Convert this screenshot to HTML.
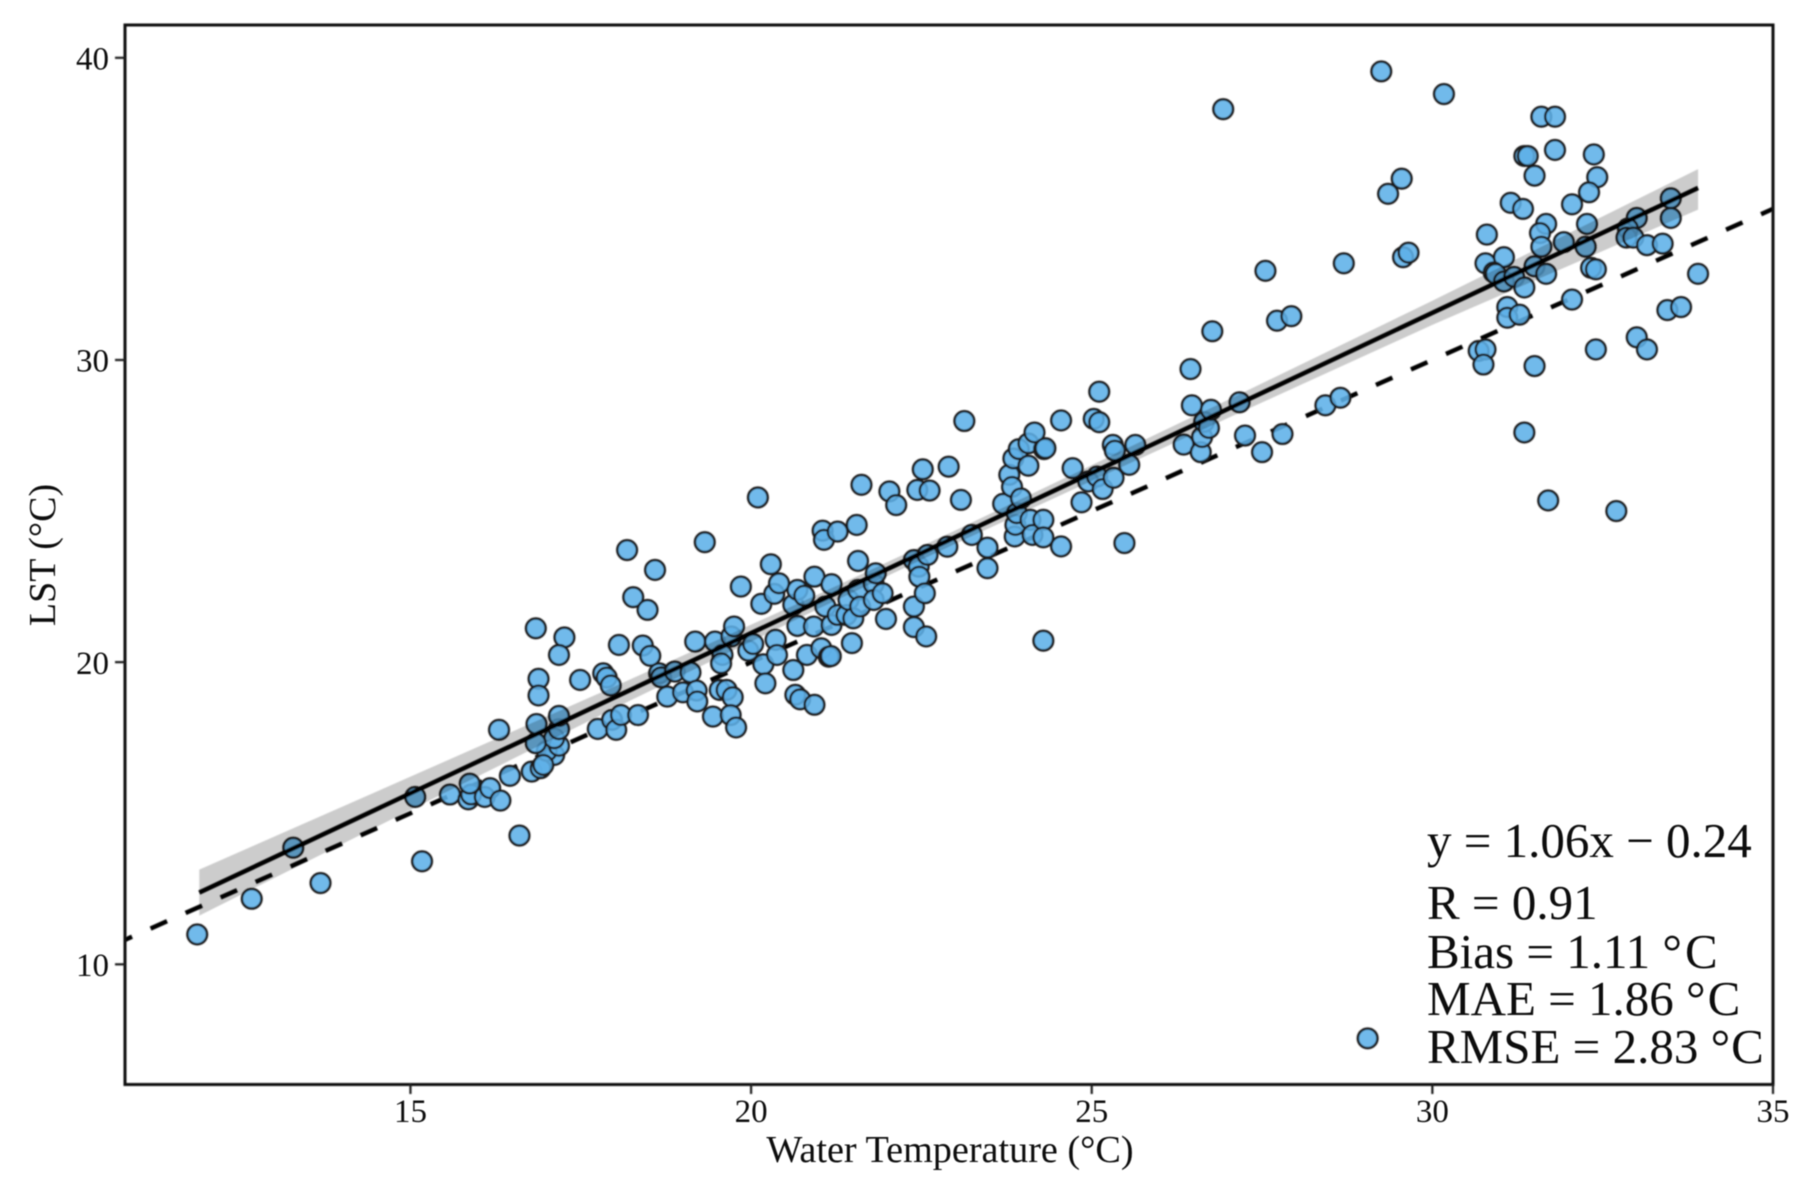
<!DOCTYPE html>
<html lang="en">
<head>
<meta charset="utf-8">
<title>LST vs Water Temperature</title>
<style>
html,body{margin:0;padding:0;background:#fff;}
body{width:1813px;height:1197px;overflow:hidden;}
svg{display:block;font-family:"Liberation Serif","Times New Roman",serif;fill:#111;}
</style>
</head>
<body>
<svg id="chart" width="1813" height="1197" viewBox="0 0 1813 1197" xmlns="http://www.w3.org/2000/svg">
  <defs>
    <filter id="soft" x="-2%" y="-2%" width="104%" height="104%"><feGaussianBlur stdDeviation="0.7"/></filter>
    <filter id="soft-text" x="-5%" y="-20%" width="110%" height="140%"><feGaussianBlur stdDeviation="0.45"/></filter>
    <clipPath id="plot-clip"><rect x="125" y="25" width="1648" height="1059"/></clipPath>
  </defs>
  <rect x="0" y="0" width="1813" height="1197" fill="#ffffff"/>
  <g id="plot" clip-path="url(#plot-clip)" filter="url(#soft)"></g>
  <g id="axes" filter="url(#soft)"></g>
  <g id="labels" filter="url(#soft-text)">
  <text x="950" y="1162" font-size="38.2" text-anchor="middle">Water Temperature (°C)</text>
  <text transform="translate(55,555) rotate(-90)" font-size="38" text-anchor="middle">LST (°C)</text>
  <g font-size="49">
    <text x="1427" y="857">y = 1.06x − 0.24</text>
    <text x="1427" y="919">R = 0.91</text>
    <text x="1427" y="968">Bias = 1.11 °<tspan dx="3">C</tspan></text>
    <text x="1427" y="1015">MAE = 1.86 °<tspan dx="2">C</tspan></text>
    <text x="1427" y="1063">RMSE = 2.83 °<tspan dx="1">C</tspan></text>
  </g>
  </g>
</svg>
<script>
const xTicks = [15, 20, 25, 30, 35];
const yTicks = [10, 20, 30, 40];
const fitSlope = 1.06;
const fitIntercept = -0.24;
const fitRange = [11.9, 33.9];
const ciX = [11.9, 15, 18, 21, 23, 27, 30, 33.9];
const ciUpperOffset = [0.76, 0.55, 0.36, 0.24, 0.22, 0.30, 0.40, 0.62];
const ciLowerOffset = [0.76, 0.55, 0.36, 0.24, 0.22, 0.30, 0.40, 0.72];
const waterTemp = [
11.87,12.67,13.28,13.68,15.07,15.17,15.58,15.85,15.89,15.87,16.09,16.17,16.32,16.30,16.46,16.60,
16.78,16.91,17.11,17.00,16.95,17.18,17.11,16.84,17.18,16.85,17.18,16.84,16.88,16.88,17.26,17.18,
17.49,17.75,17.96,18.02,18.09,18.34,17.83,17.88,17.94,18.06,18.41,18.52,18.18,18.27,18.48,18.59,
18.65,18.68,18.88,19.11,18.77,19.00,19.20,19.21,19.44,19.54,19.64,19.73,19.70,19.78,19.18,19.47,
19.32,19.58,19.56,19.71,19.75,19.96,19.85,20.03,20.10,20.15,20.18,20.21,20.29,20.34,20.41,20.36,
20.38,20.62,20.65,20.72,20.93,20.62,20.68,20.78,20.68,20.82,20.92,20.93,21.03,21.14,21.17,21.05,
21.07,21.09,21.18,21.18,21.27,21.27,21.40,21.43,21.50,21.48,21.55,21.57,21.57,21.60,21.62,21.80,
21.80,21.83,21.93,21.98,22.03,22.13,22.39,22.39,22.39,22.44,22.46,22.47,22.52,22.55,22.57,22.59,
22.62,22.88,22.90,23.08,23.13,23.24,23.47,23.47,23.70,23.79,23.83,23.85,23.87,23.88,23.90,23.93,
23.96,24.07,24.07,24.10,24.13,24.16,24.29,24.29,24.30,24.32,24.29,24.55,24.55,24.72,24.85,24.95,
25.03,25.08,25.11,25.11,25.16,25.31,25.32,25.34,25.48,25.55,25.64,
26.35,26.45,26.47,26.60,26.62,26.65,26.72,26.75,26.77,26.93,27.17,27.25,27.50,27.55,27.72,27.80,
27.93,28.43,28.65,28.70,29.05,29.25,29.35,29.55,29.57,29.65,30.17,
31.60,31.80,31.35,31.40,31.80,32.37,32.42,31.50,32.30,31.15,31.33,32.05,31.67,31.58,32.27,33.00,
33.50,33.50,32.87,32.85,32.95,33.15,33.38,30.80,30.78,31.05,30.90,30.93,31.50,31.60,31.67,31.93,
32.25,32.33,32.40,31.05,31.20,31.35,33.90,32.05,31.10,31.10,31.28,33.45,33.65,33.00,33.15,32.40,
30.68,30.78,30.75,31.50,31.35,31.70,32.70
];
const lst = [
10.99,12.17,13.86,12.69,15.54,13.41,15.62,15.46,15.62,15.98,15.54,15.83,15.42,17.76,16.24,14.26,
16.38,16.49,16.93,17.06,16.60,17.23,17.48,17.32,17.78,17.95,18.22,21.12,19.45,18.90,20.82,20.24,
19.41,17.79,18.09,17.76,18.25,18.25,19.63,19.49,19.23,20.57,20.55,20.21,23.71,22.15,21.73,23.05,
19.63,19.50,19.69,19.66,18.86,19.00,19.06,18.70,18.20,19.08,19.08,18.84,18.25,17.84,20.68,20.68,
23.97,20.24,19.96,20.85,21.18,20.38,22.50,20.60,25.45,21.93,19.93,19.30,23.24,22.26,22.61,20.74,
20.24,19.74,18.92,18.77,18.59,21.90,22.39,22.20,21.20,20.24,21.18,22.83,20.46,20.18,20.20,24.35,
24.05,21.84,22.58,21.23,21.56,24.32,21.56,22.06,21.45,20.63,24.54,23.35,22.39,21.84,25.87,22.59,
22.06,22.94,22.28,21.43,25.65,25.20,23.38,21.84,21.16,25.70,23.16,22.83,26.38,22.28,20.85,23.55,
25.68,23.82,26.47,25.37,27.98,24.21,23.79,23.11,25.24,26.20,25.80,26.74,24.16,24.54,24.93,27.05,
25.42,27.24,26.50,24.71,24.21,27.60,24.71,24.13,27.05,27.08,20.71,28.00,23.83,26.42,25.29,25.98,
28.05,26.14,28.95,27.94,25.73,27.19,26.10,27.00,23.94,26.53,27.19,
27.20,29.70,28.50,26.95,27.45,27.95,27.75,28.35,30.95,38.30,28.60,27.50,26.95,32.95,31.30,27.55,
31.45,28.50,28.75,33.20,7.55,39.55,35.50,36.00,33.40,33.55,38.80,
38.05,38.05,36.75,36.75,36.95,36.80,36.05,36.10,35.55,35.20,35.00,35.15,34.50,34.20,34.50,34.70,
35.35,34.70,34.35,34.05,34.05,33.80,33.85,34.15,33.20,33.40,32.90,32.85,33.10,33.75,32.85,33.90,
33.75,33.05,33.00,32.60,32.75,32.40,32.85,32.00,31.75,31.40,31.50,31.65,31.75,30.75,30.35,30.35,
30.30,30.35,29.85,29.80,27.60,25.35,25.00
];
const NS = 'http://www.w3.org/2000/svg';
const xMin = 10.81, xMax = 35, yMin = 6.04, yMax = 41.085;
const left = 125, right = 1773, top_ = 25, bottom = 1084;
function xScale(v) { return left + (v - xMin) / (xMax - xMin) * (right - left); }
function yScale(v) { return bottom - (v - yMin) / (yMax - yMin) * (bottom - top_); }
function fitY(x) { return fitSlope * x + fitIntercept; }
const plot = document.getElementById('plot');
const axes = document.getElementById('axes');
const labels = document.getElementById('labels');

const oneToOne = document.createElementNS(NS, 'line');


oneToOne.setAttribute('x1', xScale(xMin));
oneToOne.setAttribute('y1', yScale(xMin));
oneToOne.setAttribute('x2', xScale(xMax));
oneToOne.setAttribute('y2', yScale(xMax));
oneToOne.setAttribute('stroke', '#000');
oneToOne.setAttribute('stroke-width', '4.5');
oneToOne.setAttribute('stroke-dasharray', '18 20.3');
oneToOne.setAttribute('stroke-dashoffset', '10.3');
plot.appendChild(oneToOne);

waterTemp.forEach(function (x, i) {
  const c = document.createElementNS(NS, 'circle');
  
  
  c.setAttribute('cx', xScale(x));
  c.setAttribute('cy', yScale(lst[i]));
  c.setAttribute('r', '9.8');
  c.setAttribute('fill', '#5FB0E8');
  c.setAttribute('fill-opacity', '0.88');
  c.setAttribute('stroke', '#1c1c1c');
  c.setAttribute('stroke-width', '2.5');
  plot.appendChild(c);
});

const upperPts = ciX.map(function (x, i) { return xScale(x) + ',' + yScale(fitY(x) + ciUpperOffset[i]); });
const lowerPts = ciX.map(function (x, i) { return xScale(x) + ',' + yScale(fitY(x) - ciLowerOffset[i]); }).reverse();
const band = document.createElementNS(NS, 'polygon');


band.setAttribute('points', upperPts.concat(lowerPts).join(' '));
band.setAttribute('fill', '#000');
band.setAttribute('fill-opacity', '0.2');
plot.appendChild(band);

const fit = document.createElementNS(NS, 'line');


fit.setAttribute('x1', xScale(fitRange[0]));
fit.setAttribute('y1', yScale(fitY(fitRange[0])));
fit.setAttribute('x2', xScale(fitRange[1]));
fit.setAttribute('y2', yScale(fitY(fitRange[1])));
fit.setAttribute('stroke', '#000');
fit.setAttribute('stroke-width', '4.5');
plot.appendChild(fit);

const frame = document.createElementNS(NS, 'rect');


frame.setAttribute('x', left);
frame.setAttribute('y', top_);
frame.setAttribute('width', right - left);
frame.setAttribute('height', bottom - top_ + 0.5);
frame.setAttribute('fill', 'none');
frame.setAttribute('stroke', '#111');
frame.setAttribute('stroke-width', '3');
axes.appendChild(frame);

xTicks.forEach(function (t) {
  const m = document.createElementNS(NS, 'line');
  
  
  m.setAttribute('x1', xScale(t));
  m.setAttribute('x2', xScale(t));
  m.setAttribute('y1', bottom);
  m.setAttribute('y2', bottom + 10);
  m.setAttribute('stroke', '#1a1a1a');
  m.setAttribute('stroke-width', '2.2');
  axes.appendChild(m);
  const l = document.createElementNS(NS, 'text');
  
  
  l.setAttribute('x', xScale(t));
  l.setAttribute('y', 1122);
  l.setAttribute('font-size', '33');
  l.setAttribute('text-anchor', 'middle');
  l.textContent = t;
  labels.appendChild(l);
});
yTicks.forEach(function (t) {
  const m = document.createElementNS(NS, 'line');
  
  
  m.setAttribute('x1', left - 10);
  m.setAttribute('x2', left);
  m.setAttribute('y1', yScale(t));
  m.setAttribute('y2', yScale(t));
  m.setAttribute('stroke', '#1a1a1a');
  m.setAttribute('stroke-width', '2.2');
  axes.appendChild(m);
  const l = document.createElementNS(NS, 'text');
  
  
  l.setAttribute('x', 109);
  l.setAttribute('y', yScale(t) + 11.6);
  l.setAttribute('font-size', '33');
  l.setAttribute('text-anchor', 'end');
  l.textContent = t;
  labels.appendChild(l);
});
</script>
</body>
</html>
